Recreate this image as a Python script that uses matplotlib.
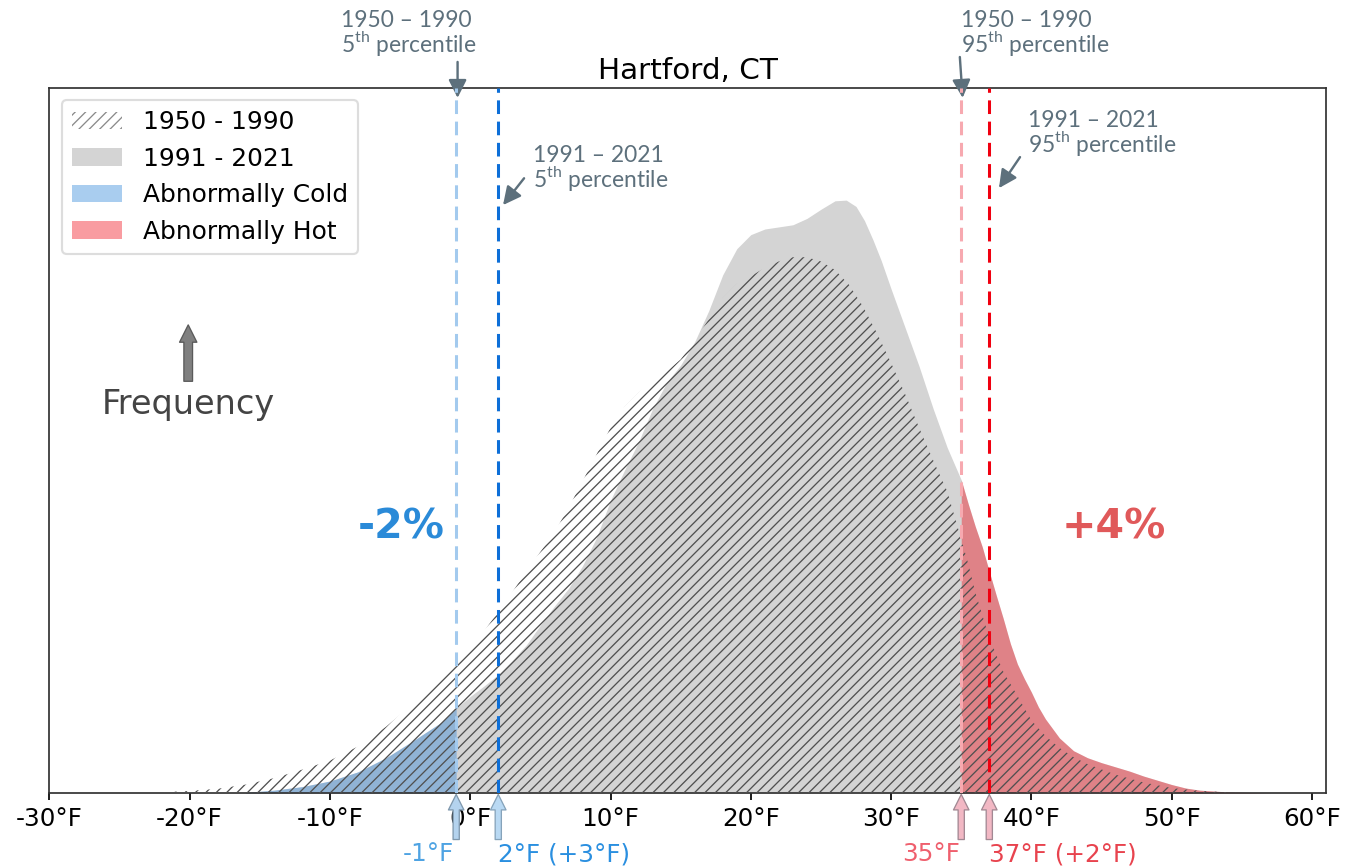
import matplotlib
matplotlib.use('Agg')
import matplotlib.pyplot as plt
from matplotlib.patches import Patch

plt.rcParams['mathtext.fontset'] = 'custom'
plt.rcParams['mathtext.rm'] = 'Lato'
plt.rcParams['hatch.linewidth'] = 0.6

# daily temperature distribution, relative frequency (peak scale)
temps_new = [-16, -14, -12, -10, -8, -6, -4, -2, -1, 0, 1, 2, 3, 4, 5, 6, 7, 8, 9, 10,
             11, 12, 13, 14, 15, 16, 17, 18, 19, 20, 21, 22, 23, 24, 25, 26, 26.8, 27.5,
             28.1, 28.7, 29.3, 30, 31, 32, 33, 34, 35, 35.5, 36, 36.5, 37, 37.5, 38,
             38.5, 39, 39.5, 40, 40.5, 41, 42, 43, 44, 45, 46, 47, 48, 49, 50, 51, 52,
             54, 57]
freq_new = [0.001, 0.004, 0.009, 0.017, 0.030, 0.050, 0.075, 0.101, 0.120, 0.137, 0.152,
            0.168, 0.188, 0.210, 0.238, 0.265, 0.290, 0.322, 0.362, 0.415, 0.458, 0.498,
            0.545, 0.582, 0.607, 0.640, 0.684, 0.735, 0.772, 0.792, 0.800, 0.803, 0.806,
            0.815, 0.828, 0.840, 0.841, 0.832, 0.812, 0.785, 0.755, 0.715, 0.660, 0.605,
            0.545, 0.490, 0.444, 0.410, 0.378, 0.349, 0.314, 0.280, 0.247, 0.212, 0.183,
            0.162, 0.143, 0.122, 0.105, 0.078, 0.060, 0.050, 0.043, 0.037, 0.031, 0.024,
            0.018, 0.012, 0.007, 0.004, 0.0015, 0.0]

temps_old = [-24, -22, -20, -18, -16, -14, -12, -10, -8, -6, -4, -2, -1, 0, 1, 2, 3, 4,
             5, 6, 7, 8, 9, 10, 11, 12, 13, 14, 15, 16, 17, 18, 19, 20, 21, 22, 23, 24,
             25, 26, 27, 28, 29, 30, 31, 32, 33, 34, 35, 35.5, 36, 37, 38, 39, 40, 41,
             42, 43, 44, 46, 48, 50, 52, 55]
freq_old = [0.0, 0.001, 0.003, 0.006, 0.012, 0.021, 0.033, 0.046, 0.066, 0.094, 0.128,
            0.167, 0.184, 0.205, 0.230, 0.257, 0.285, 0.314, 0.342, 0.370, 0.404, 0.442,
            0.480, 0.518, 0.548, 0.568, 0.584, 0.598, 0.615, 0.642, 0.672, 0.702, 0.722,
            0.733, 0.745, 0.754, 0.760, 0.760, 0.754, 0.742, 0.721, 0.690, 0.652, 0.610,
            0.566, 0.518, 0.472, 0.428, 0.360, 0.325, 0.285, 0.220, 0.172, 0.138, 0.103,
            0.081, 0.064, 0.051, 0.041, 0.026, 0.015, 0.007, 0.003, 0.0]

p5_old, p5_new = -1, 2
p95_old, p95_new = 35, 37
cold_change = '-2%'
hot_change = '+4%'
xticks = list(range(-30, 61, 10))
xtick_labels = [f'{t}°F' for t in xticks]

gray = '#d4d4d4'
blue = '#2a82d9'
red = '#f20814'
note_col = '#5d707c'

fig = plt.figure(figsize=(1355 / 156, 868 / 156), dpi=156)
ax = fig.add_axes([0.0364, 0.0864, 0.9422, 0.8122])

ax.fill_between(temps_new, freq_new, color=gray, lw=0, zorder=1)
ax.fill_between(temps_new, freq_new, where=[t <= p5_old for t in temps_new],
                color=blue, alpha=0.4, lw=0, zorder=2)
ax.fill_between(temps_new, freq_new, where=[t >= p95_old for t in temps_new],
                color=red, alpha=0.4, lw=0, zorder=2)
ax.fill_between(temps_old, freq_old, facecolor='none', edgecolor='#505050',
                hatch='/////', lw=0, zorder=3)

dash = (0, (4.5, 2.5))
ax.axvline(p5_old, color='#a3caee', ls=dash, lw=1.4, zorder=5)
ax.axvline(p5_new, color='#0d6fd8', ls=dash, lw=1.4, zorder=5)
ax.axvline(p95_old, color='#f7a9b0', ls=dash, lw=1.4, zorder=5)
ax.axvline(p95_new, color='#f00010', ls=dash, lw=1.4, zorder=5)

ax.set_xlim(-30, 61)
ax.set_ylim(0, 1)
ax.set_yticks([])
ax.set_xticks(xticks)
ax.set_xticklabels(xtick_labels, fontsize=11.4)
ax.tick_params(axis='x', length=3.3, width=0.8, pad=3.2)
for s in ax.spines.values():
    s.set_color('#333333')
    s.set_linewidth(0.8)
ax.set_title('Hartford, CT', fontsize=13.6, pad=4)

handles = [Patch(facecolor='white', edgecolor='#8a8a8a', hatch='/////', lw=0, label='1950 - 1990'),
           Patch(facecolor=gray, lw=0, label='1991 - 2021'),
           Patch(facecolor=blue, alpha=0.4, lw=0, label='Abnormally Cold'),
           Patch(facecolor=red, alpha=0.4, lw=0, label='Abnormally Hot')]
ax.legend(handles=handles, loc='upper left', fontsize=11.5, handletextpad=0.85,
          labelspacing=0.5, edgecolor='#dddddd', framealpha=1)

# frequency arrow
ax.annotate('', xy=(-20.1, 0.664), xytext=(-20.1, 0.584),
            arrowprops=dict(arrowstyle='simple,head_width=0.4,head_length=0.4,tail_width=0.2',
                            mutation_scale=20, fc='#808080', ec='#5a5a5a', lw=0.6,
                            shrinkA=0, shrinkB=0))
ax.text(-20.1, 0.551, 'Frequency', fontsize=15.5, color='#444444', ha='center', va='center')

ax.text(-4.95, 0.376, cold_change, fontsize=19, fontweight='bold', color='#2a8ad8',
        ha='center', va='center')
ax.text(45.9, 0.376, hot_change, fontsize=19, fontweight='bold', color='#e0595a',
        ha='center', va='center')

# percentile notes above the plot
note_arrow = dict(arrowstyle='-|>,head_length=0.5,head_width=0.25', mutation_scale=14,
                  color=note_col, lw=1.1, shrinkA=0, shrinkB=0)
notes = [(-9.24, 1.0865, 1.051, '5', (-0.9, 1.037), (-0.9, 0.986)),
         (34.98, 1.0865, 1.051, '95', (34.9, 1.044), (35.1, 0.986)),
         (4.48, 0.895, 0.860, '5', (3.84, 0.872), (2.34, 0.834)),
         (39.76, 0.945, 0.909, '95', (39.19, 0.902), (37.69, 0.858))]
periods = ['1950 – 1990', '1950 – 1990', '1991 – 2021', '1991 – 2021']
for (x, y1, y2, pct, tail, tip), per in zip(notes, periods):
    ax.text(x, y1, per, fontsize=10.5, color=note_col, family='Lato', va='baseline',
            clip_on=False)
    ax.text(x, y2, pct + r'$^{\mathrm{th}}$ percentile', fontsize=10.5, color=note_col,
            family='Lato', va='baseline', clip_on=False)
    ax.annotate('', xy=tip, xytext=tail, arrowprops=note_arrow, annotation_clip=False)

# value markers below the axis
marks = [(p5_old, '#b4d3ee', '#7f98ad', '-1°F', '#4ea3e3', 'right'),
         (p5_new, '#b9d9f3', '#86a3ba', '2°F (+3°F)', '#2a8fe0', 'left'),
         (p95_old, '#f2b8c4', '#a28893', '35°F', '#ef5f6d', 'right'),
         (p95_new, '#f2b8c4', '#a28893', '37°F (+2°F)', '#e8434e', 'left')]
for x, fc, ec, lab, tc, ha in marks:
    ax.annotate('', xy=(x, -0.002), xytext=(x, -0.066), annotation_clip=False,
                arrowprops=dict(arrowstyle='simple,head_width=0.55,head_length=0.55,tail_width=0.22',
                                mutation_scale=13, fc=fc, ec=ec, lw=0.6,
                                shrinkA=0, shrinkB=0))
    ax.text(x - 0.12 if ha == 'right' else x, -0.0965, lab, fontsize=11.4, color=tc,
            ha=ha, va='baseline', clip_on=False)

fig.savefig('out.png', dpi=156)
